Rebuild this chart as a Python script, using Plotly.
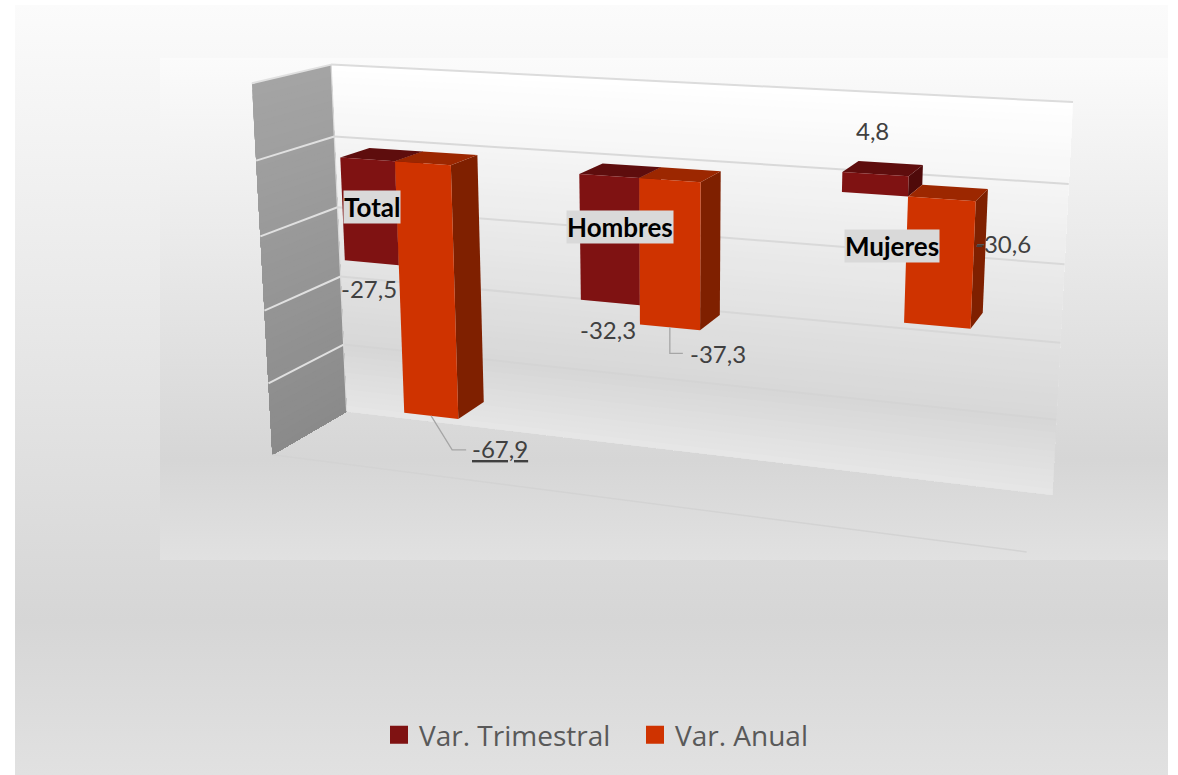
import numpy as np
import plotly.graph_objects as go

categories = ["Total", "Hombres", "Mujeres"]
series_names = ["Var. Trimestral", "Var. Anual"]
var_trimestral = [-27.5, -32.3, 4.8]
var_anual = [-67.9, -37.3, -30.6]
axis_levels = [20, 0, -20, -40, -60, -80]

W, H = 1178, 775
V_MAX, V_MIN = 20, -80

# Picture of the 3D box: (x frac, depth frac [0 front,1 back], value) -> pixel
box = [((0, 1, 20), (331, 64)), ((1, 1, 20), (1073, 102)), ((0, 1, -80), (347, 412)),
       ((1, 1, -80), (1052, 495)), ((0, 0, 20), (252, 84)), ((0, 0, -80), (272, 454)),
       ((1, 0, -80), (1027, 552))]


def znorm(v):
    return (v - V_MIN) / (V_MAX - V_MIN)


A = []
for (X, Y, V), (u, v) in box:
    Z = znorm(V)
    A.append([X, Y, Z, 1, 0, 0, 0, 0, -u * X, -u * Y, -u * Z, -u])
    A.append([0, 0, 0, 0, X, Y, Z, 1, -v * X, -v * Y, -v * Z, -v])
P = np.linalg.svd(np.array(A, float))[2][-1].reshape(3, 4)


def proj(X, Y, V):
    p = P @ np.array([X, Y, znorm(V), 1.0])
    return p[0] / p[2], p[1] / p[2]


def poly(pts, color, **kw):
    xy = [proj(*p) for p in pts]
    xs = [q[0] for q in xy] + [xy[0][0]]
    ys = [q[1] for q in xy] + [xy[0][1]]
    return go.Scatter(x=xs, y=ys, mode="lines", fill="toself", fillcolor=color,
                      line=dict(width=0, color=color), hoverinfo="skip", showlegend=False, **kw)


def line(pts, color, width):
    xy = [proj(*p) for p in pts]
    return go.Scatter(x=[q[0] for q in xy], y=[q[1] for q in xy], mode="lines",
                      line=dict(color=color, width=width), hoverinfo="skip", showlegend=False)


def rect_grad(x0, x1, y0, y1):
    return go.Scatter(x=[x0, x1, x1, x0, x0], y=[y0, y0, y1, y1, y0], mode="lines", fill="toself",
                      line=dict(width=0), hoverinfo="skip", showlegend=False,
                      fillgradient=dict(type="vertical",
                                        colorscale=[[0, "#e1e1e1"], [0.2, "#d6d6d6"], [1, "#fbfbfb"]]))


def lerp_grey(t, stops):
    for (t0, g0), (t1, g1) in zip(stops, stops[1:]):
        if t <= t1:
            g = g0 + (g1 - g0) * (t - t0) / (t1 - t0)
            g = int(round(g))
            return f"rgb({g},{g},{g})"
    g = int(stops[-1][1])
    return f"rgb({g},{g},{g})"


fig = go.Figure()
fig.add_trace(rect_grad(15, 1168, 5, 775))
fig.add_trace(rect_grad(160, 1168, 58, 560))

# back wall and side wall as graded strips, painted top down
N = 60
for i in range(N):
    t = i / N
    v = V_MAX - t * (V_MAX - V_MIN)
    c = lerp_grey(t, [(0, 255), (0.8, 215), (1, 231)])
    fig.add_trace(poly([(0, 1, v), (1, 1, v), (1, 1, V_MIN), (0, 1, V_MIN)], c))
for i in range(N):
    t = i / N
    v = V_MAX - t * (V_MAX - V_MIN)
    c = lerp_grey(t, [(0, 164), (1, 138)])
    fig.add_trace(poly([(0, 0, v), (0, 1, v), (0, 1, V_MIN), (0, 0, V_MIN)], c))

# gridlines
for lv, col in zip(axis_levels, ["#dcdcdc", "#d9d9d9", "#d9d9d9", "#d7d7d7", "#d4d4d4", None]):
    if col:
        fig.add_trace(line([(0, 1, lv), (1, 1, lv)], col, 2))
for lv in axis_levels[:-1]:
    fig.add_trace(line([(0, 0, lv), (0, 1, lv)], "#e0e0e0", 2))
fig.add_trace(line([(0, 1, V_MAX), (0, 1, V_MIN)], "#d9d9d9", 1.2))
fig.add_trace(line([(0, 0, V_MIN), (1, 0, V_MIN)], "#d3d3d3", 1.4))

# bars
Y0, Y1 = 0.285, 0.675
BAR = 0.079
COL = [("#7f1212", "#5e0d0d", "#4f0a0a"), ("#cf3300", "#9c2700", "#7f2000")]


def add_bar(x0, x1, val, cols):
    lo, hi = min(0, val), max(0, val)
    front, top, side = cols
    fig.add_trace(poly([(x1, Y0, hi), (x1, Y1, hi), (x1, Y1, lo), (x1, Y0, lo)], side))
    fig.add_trace(poly([(x0, Y0, hi), (x1, Y0, hi), (x1, Y1, hi), (x0, Y1, hi)], top))
    fig.add_trace(poly([(x0, Y0, hi), (x1, Y0, hi), (x1, Y0, lo), (x0, Y0, lo)], front))


centers = [(i + 0.5) / len(categories) + 0.002 for i in range(len(categories))]
for c, t, a in zip(centers, var_trimestral, var_anual):
    add_bar(c - BAR, c, t, COL[0])
    add_bar(c, c + BAR, a, COL[1])

# legend entries
for name, cols in zip(series_names, COL):
    fig.add_trace(go.Scatter(x=[None], y=[None], mode="markers", name=name,
                             marker=dict(symbol="square", size=16, color=cols[0],
                                         line=dict(color=cols[0], width=2))))

# data labels: pixel offset from the bar's value end
offsets_t = [(-3, 26), (-2, 27), (-3, -44)]
offsets_a = [(69, 33), (48, 26), (66, -82)]
lead = [[(0, 0), (21, 34), (35, 34)], [(0, 0), (0, 26), (13, 26)], [(40, -81), (47, -81)]]
lead_col = ["#a6a6a6", "#a6a6a6", "#595959"]
annots = []
LAB = dict(family="Lato, 'Open Sans', sans-serif", size=24, color="#404040")


def fmt(v):
    return f"{v:.1f}".replace(".", ",")


for c, t, a, ot, oa, ld, lc in zip(centers, var_trimestral, var_anual, offsets_t, offsets_a, lead, lead_col):
    px, py = proj(c - BAR / 2, Y0, t)
    annots.append(dict(x=px + ot[0], y=py + ot[1], text=fmt(t), showarrow=False, font=LAB))
    px, py = proj(c + BAR / 2, Y0, a)
    f = dict(LAB)
    if a == min(var_anual):
        f["lineposition"] = "under"
    annots.append(dict(x=px + oa[0], y=py + oa[1], text=fmt(a), showarrow=False, font=f))
    fig.add_trace(go.Scatter(x=[px + d[0] for d in ld], y=[py + d[1] for d in ld], mode="lines",
                             line=dict(color=lc, width=1.3), hoverinfo="skip", showlegend=False))

# category labels
cat_pos = [(372, 207), (620, 226.5), (892, 245.5)]
for name, (x, y) in zip(categories, cat_pos):
    annots.append(dict(x=x, y=y, text=f"<b>{name}</b>", showarrow=False, bgcolor="#d9d9d9", borderpad=0,
                       font=dict(family="Lato, sans-serif", size=26, color="#000000")))

fig.update_layout(
    width=W, height=H, margin=dict(l=0, r=0, t=0, b=0), paper_bgcolor="white", plot_bgcolor="rgba(0,0,0,0)",
    xaxis=dict(range=[0, W], visible=False, fixedrange=True),
    yaxis=dict(range=[H, 0], visible=False, fixedrange=True),
    annotations=annots, hovermode=False,
    legend=dict(orientation="h", x=379 / W, y=0.0515, xanchor="left", yanchor="middle", bgcolor="rgba(0,0,0,0)",
                entrywidth=211, entrywidthmode="pixels",
                font=dict(family="'Open Sans', sans-serif", size=28, color="#595959")),
)
fig.write_html("out.html", config=dict(displayModeBar=False),
               post_script="document.body.style.margin='0';document.documentElement.style.overflow='hidden';")
